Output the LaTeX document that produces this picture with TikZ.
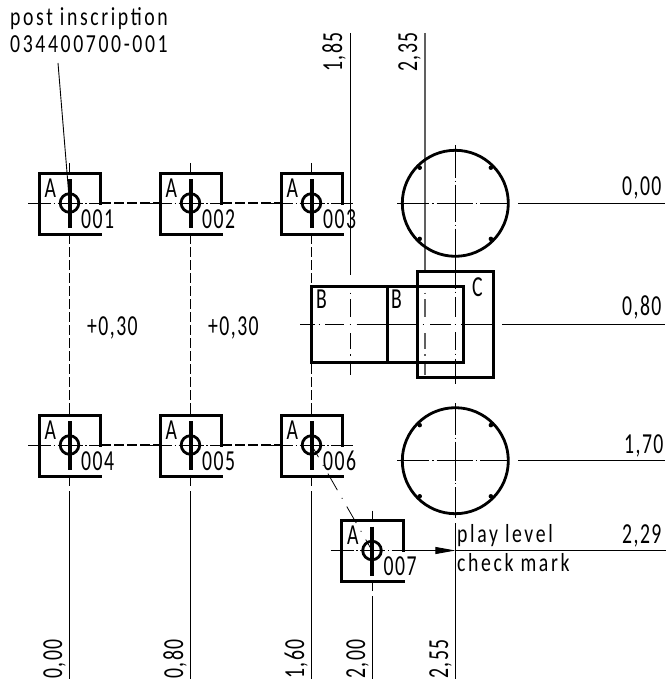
\documentclass[tikz,border=0pt]{standalone}
\usepackage{fontspec}
\setmainfont[FakeStretch=0.68,LetterSpace=5]{Carlito}
\newfontfamily\spaced[FakeStretch=0.76,LetterSpace=10]{Carlito}
\usetikzlibrary{arrows.meta}
\tikzset{
  thin line/.style={line width=0.9pt,black},
  thick line/.style={line width=3pt,black,line cap=rect},
  bar line/.style={line width=4pt,black},
  centre line/.style={line width=0.8pt,black},
  long dash/.style={line width=1.1pt,black,dash pattern=on 10pt off 3pt},
  lab/.style={inner sep=0pt,font=\fontsize{29}{29}\selectfont,anchor=base west},
  note/.style={inner sep=0pt,font=\spaced\fontsize{26}{26}\selectfont,anchor=base west},
  dimv/.style={inner sep=0pt,font=\fontsize{29}{29}\selectfont,rotate=90,anchor=base west},
  small dot/.style={circle,fill=black,inner sep=0pt,minimum size=4.5pt}
}
\newcommand{\tick}[5]{% x y label labx name
  \coordinate (#5c) at (#1,#2);
  \draw[thick line] (#1+31,#2) -- (#1+31,#2-30) -- (#1-30.5,#2-30) -- (#1-30.5,#2+31) -- (#1+31,#2+31);
  \draw[line width=2.8pt] (#5c) circle (9.3);
  \draw[bar line] (#1,#2-24) -- (#1,#2+25);
  \draw[centre line,dash pattern=on 23pt off 2.5pt on 1.5pt off 2.5pt on 25pt off 2.5pt on 1.5pt off 2.5pt on 22pt off 40pt] (#1-41.5,#2) -- (#1+41,#2);
  \draw[thin line] (#1,#2-40) -- (#1,#2-30);
  \node[lab] (#5a) at (#1-25,#2-6) {A};
  \node[lab] (#5t) at (#1+#4,#2+25) {#3};
}
\begin{document}
\begin{tikzpicture}[x=1pt,y=-1pt]
\useasboundingbox (0,0) rectangle (667,679);
\fill[white] (0,0) rectangle (667,679);

% long reference lines
\coordinate (v1t) at (350,33);
\coordinate (v1b) at (350,375);
\coordinate (v2t) at (425,33);
\coordinate (v2b) at (425,375);
\draw[thin line,dash pattern=on 242pt off 17.5pt on 1.5pt off 5pt on 18pt off 16pt on 16pt off 5pt on 1.5pt off 5pt on 30pt] (v1t) -- (v1b);
\draw[gray!75!black,line width=1.1pt,dash pattern=on 239pt off 20.5pt on 1.5pt off 5pt on 18pt off 16pt on 16pt off 5pt on 1.5pt off 5pt on 30pt] (v2t) -- (v2b);

\tick{69.5}{203}{001}{11.5}{p1}
\tick{190.5}{203}{002}{11.5}{p2}
\tick{311.5}{203}{003}{11.5}{p3}
\tick{69.5}{445}{004}{11.5}{p4}
\tick{190.5}{445}{005}{11.5}{p5}
\tick{311.5}{445}{006}{11.5}{p6}
\tick{372}{550.5}{007}{11.5}{p7}

% dashed links
\draw[long dash] (101,203) -- (160,203);
\draw[long dash] (222,203) -- (281,203);
\draw[long dash] (101,445) -- (160,445);
\draw[long dash] (222,445) -- (281,445);
\draw[long dash] (69.5,234) -- (69.5,415);
\draw[long dash] (190.5,234) -- (190.5,415);
\draw[long dash] (311.5,234) -- (311.5,415);

% lines below the row
\foreach \x in {69.5,190.5,311.5} {
  \draw[thin line] (\x,476) -- (\x,486);
  \draw[thin line] (\x,491) -- (\x,679);
}
\draw[thin line] (372,581) -- (372,591);
\draw[thin line] (372,596) -- (372,679);

% leader
\node[note] (post) at (10,26) {post inscription};
\node[note] (num) at (10,53) {034400700-001};
\coordinate (lead) at (58,63);
\draw[thin line] (lead) -- (p1c);

% circles
\coordinate (c1) at (455.3,203.3);
\coordinate (c2) at (455.3,460.7);
\foreach \c in {c1,c2} {
  \draw[line width=2.8pt] (\c) circle (53);
  \foreach \a in {45,135,225,315} \node[small dot] at ([shift={(\a:50.3)}]\c) {};
}
\tikzset{hcentre/.style={centre line,dash pattern=on 32pt off 3pt on 1.5pt off 3pt on 36pt off 3pt on 1.5pt off 3pt on 32pt off 40pt}}
\draw[hcentre] (397,203.3) -- (509,203.3);
\draw[thin line] (518,203.3) -- (665,203.3);
\draw[hcentre] (397,460.7) -- (509,460.7);
\draw[thin line] (518,460.7) -- (665,460.7);
\draw[centre line,dash pattern=on 33pt off 2.5pt on 1pt off 3pt on 37pt off 3pt on 1pt off 3pt on 60pt off 3pt on 1.5pt off 4pt on 20pt off 15pt on 18pt off 3.5pt on 1.5pt off 3.5pt on 40pt] (455.3,145) -- (455.3,383.5);
\draw[centre line,dash pattern=on 32pt off 2.5pt on 1pt off 3pt on 39pt off 2.5pt on 1pt off 3pt on 40pt] (455.3,403) -- (455.3,518);
\draw[thin line] (455.3,523) -- (455.3,679);

% boxes B and C
\draw[thick line] (311.3,286.7) rectangle (387.3,362);
\draw[thick line] (387.3,286.7) rectangle (463,362);
\draw[thick line] (417.3,271.7) rectangle (493.3,377.7);
\draw[centre line,dash pattern=on 15pt off 3.5pt on 1.5pt off 5pt on 19pt off 5.5pt on 1.5pt off 5.5pt on 60pt off 6pt on 1.5pt off 6pt on 21pt off 3.5pt on 1.5pt off 5pt on 40pt] (300,324.3) -- (495,324.3);
\draw[thin line] (502,324.3) -- (665,324.3);
\node[lab] (bb1) at (316,308) {B};
\node[lab] (bb2) at (391,308) {B};
\node[lab] (cc) at (472,296) {C};

% level line
\draw[centre line,dash pattern=on 19pt off 9pt on 1pt off 9pt,dash phase=5pt] (p6c) -- (p7c);
\coordinate (arrowstart) at (402,550.5);
\coordinate (arrowtip) at (455.3,550.5);
\coordinate (levelend) at (666,550.5);
\draw[thin line,-{Triangle[length=20pt,width=7pt]}] (arrowstart) -- (arrowtip);
\draw[thin line] (arrowtip) -- (levelend);
\node[note] (pl) at (457,542) {play level};
\node[note] (cm) at (457,571) {check mark};

% labels
\node[lab] (d1) at (622,195) {0,00};
\node[lab] (d2) at (622,315) {0,80};
\node[lab] (d3) at (624,453) {1,70};
\node[lab] (d4) at (622,543) {2,29};
\node[lab] (p30a) at (87,335) {+0,30};
\node[lab] (p30b) at (208,335) {+0,30};
\node[dimv] (h1) at (342,72) {1,85};
\node[dimv] (h2) at (417,72) {2,35};
\node[dimv] (b1) at (62,679) {0,00};
\node[dimv] (b2) at (183,679) {0,80};
\node[dimv] (b3) at (304,679) {1,60};
\node[dimv] (b4) at (365,679) {2,00};
\node[dimv] (b5) at (448,679) {2,55};
\end{tikzpicture}
\end{document}
